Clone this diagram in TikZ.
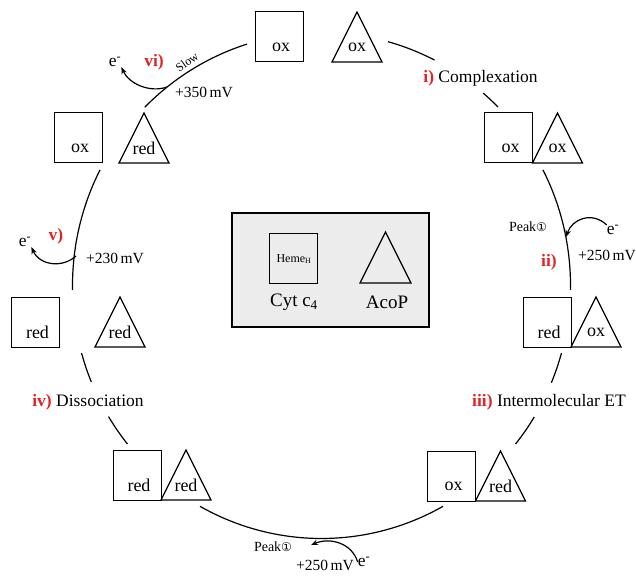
\documentclass[tikz,border=0pt]{standalone}
\usepackage{fontspec}
\setmainfont{Liberation Serif}
\newfontfamily\dejavu{DejaVu Sans}
\usetikzlibrary{arrows.meta}
\definecolor{myred}{RGB}{226,36,36}
\definecolor{boxgray}{RGB}{236,236,236}
\newcommand\circone{{\dejavu\fontsize{12}{14}\selectfont ①}}
\newcommand\redlbl[1]{\textcolor{myred}{\bfseries #1}}
\newcommand\eminus{e\textsuperscript{-}}
\newcommand\tribox[4]{% name, cx, cy, text
  \draw[shapeline] (#2-25,#3+25) -- (#2,#3-25) -- (#2+25,#3+25) -- cycle;
  \node[inner] (#1) at (#2,#3+10) {#4};}
\newcommand\sqbox[4]{% name, cx, cy, text
  \node[sq] (#1) at (#2,#3) {};
  \node[inner] (#1t) at (#2+2,#3+10) {#4};}
\begin{document}
\begin{tikzpicture}[x=1pt,y=-1pt,
  shapeline/.style={line width=1.2pt, line join=miter},
  sq/.style={draw, line width=1.0pt, minimum width=48pt, minimum height=50pt, inner sep=0pt},
  inner/.style={font=\fontsize{18}{20}\selectfont, inner sep=0pt},
  lab/.style={font=\fontsize{17.5}{20}\selectfont, inner sep=0pt},
  mv/.style={font=\fontsize{15.5}{18}\selectfont, inner sep=0pt},
  peak/.style={font=\fontsize{14}{16}\selectfont, inner sep=0pt},
  cyc/.style={line width=1.2pt},
  ar/.style={line width=1.2pt, -{Stealth[length=7pt,width=5.5pt]}}]
\useasboundingbox (0,0) rectangle (636,577);

% cycle arcs (ellipse center 321.5,285.5)
\foreach \a/\b in {224.8/252.6, -74.5/-63, -49.5/-44.9, -27.2/1, 15.5/22.6,
                   31.3/38.8, 60.8/119.2, 141.2/148.8, 157.6/164.5, 179/207.2}
  \draw[cyc] plot[domain=\a:\b, samples=40, smooth] ({321.5+249*cos(\x)},{285.5+253*sin(\x)});

% center legend box
\node[draw, line width=2pt, fill=boxgray, minimum width=197pt, minimum height=114pt] (legend) at (330.5,270) {};
\node[sq] (hemesq) at (293,258) {};
\node[font=\fontsize{12}{14}\selectfont, inner sep=0pt] (heme) at (294,259) {Heme\textsubscript{H}};
\draw[shapeline] (360,283) -- (385.5,232) -- (411,283) -- cycle;
\coordinate (acoptri) at (385.5,258);
\node[lab, font=\fontsize{19}{21}\selectfont] (cyt) at (294,302) {Cyt c\textsubscript{4}};
\node[lab, font=\fontsize{19}{21}\selectfont] (acop) at (387,302) {AcoP};

% states
\sqbox{s1}{279}{37}{ox}
\tribox{t1}{357}{37}{ox}
\sqbox{s2}{508.5}{138}{ox}
\tribox{t2}{557.5}{138}{ox}
\sqbox{s3}{547}{322}{red}
\tribox{t3}{596}{322}{ox}
\sqbox{s4}{451.5}{476}{ox}
\tribox{t4}{500.5}{476}{red}
\sqbox{s5}{137}{475}{red}
\tribox{t5}{186}{475}{red}
\sqbox{s6}{35.5}{322}{red}
\tribox{t6}{120}{322}{red}
\sqbox{s7}{78}{138}{ox}
\tribox{t7}{144}{138}{red}

% step labels
\node[lab] (l1) at (480.5,78) {\redlbl{i)} Complexation};
\node[lab] (l3) at (549,402) {\redlbl{iii)} Intermolecular ET};
\node[lab] (l4) at (88,402) {\redlbl{iv)} Dissociation};
\node[lab] (l2) at (549,262) {\redlbl{ii)}};
\node[lab] (l5) at (56,236) {\redlbl{v)}};
\node[lab] (l6) at (154,62) {\redlbl{vi)}};

% electron arrows
\node[lab] (e6) at (115,62) {\eminus};
\coordinate (a6) at (167,87);
\draw[ar] (a6) .. controls (150,93) and (129,84) .. (e6.south east);
\node[font=\fontsize{12}{14}\selectfont, inner sep=0pt, rotate=36] (slow) at (187,62) {Slow};
\node[mv] (m6) at (204,92) {+350\,mV};

\node[lab] (e5) at (25,242) {\eminus};
\coordinate (a5) at (76,256);
\draw[ar] (a5) .. controls (63,268) and (40,266) .. (e5.south east);
\node[mv] (m5) at (115,258) {+230\,mV};

\node[lab] (e2) at (613,230) {\eminus};
\coordinate (a2) at (566,237);
\draw[ar] (e2.north west) .. controls (592,211) and (572,219) .. (a2);
\node[mv] (m2) at (607,255) {+250\,mV};
\node[peak] (p2) at (528,227) {Peak\circone};

\node[lab] (e0) at (364,562) {\eminus};
\coordinate (a0) at (311,545);
\draw[ar] (e0.west) .. controls (352,543) and (330,537) .. (a0);
\node[mv] (m0) at (325,565) {+250\,mV};
\node[peak] (p0) at (273,547) {Peak\circone};
\end{tikzpicture}
\end{document}
